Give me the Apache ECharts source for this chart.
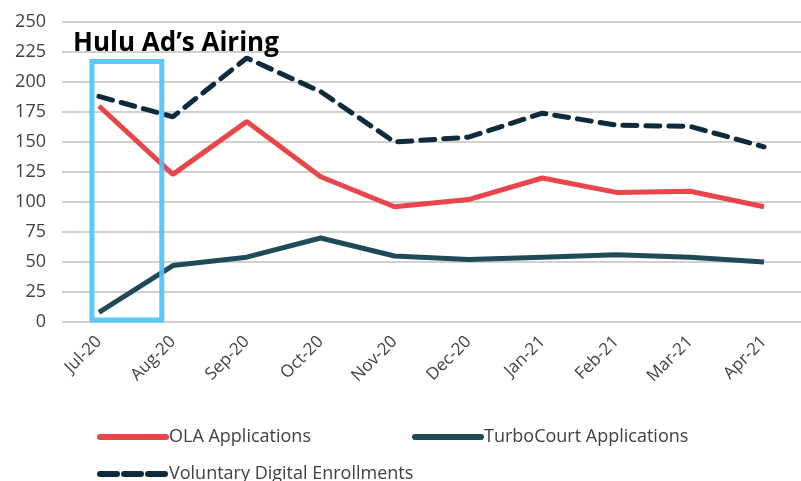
<!DOCTYPE html>
<html>
<head>
<meta charset="utf-8">
<script src="https://cdn.jsdelivr.net/npm/echarts@6/dist/echarts.min.js"></script>
<style>
  html, body { margin: 0; padding: 0; background: #fff; }
  #main { width: 801px; height: 481px; }
</style>
</head>
<body>
<div id="main"></div>
<script>
var months = ['Jul-20', 'Aug-20', 'Sep-20', 'Oct-20', 'Nov-20', 'Dec-20', 'Jan-21', 'Feb-21', 'Mar-21', 'Apr-21'];
var olaApps = [180, 123, 167, 121, 96, 102, 120, 108, 109, 96];
var turboApps = [8, 47, 54, 70, 55, 52, 54, 56, 54, 50];
var voluntary = [188, 171, 220, 192, 150, 154, 174, 164, 163, 146];
var annotation = 'Hulu Ad\u2019s Airing';

var font = "'Open Sans', sans-serif";
var chart = echarts.init(document.getElementById('main'));

var option = {
  animation: false,
  backgroundColor: '#fff',
  title: {
    text: annotation,
    left: 68, top: 26,
    textStyle: { fontFamily: font, fontWeight: 'bold', fontSize: 26, color: '#000' }
  },
  grid: { left: 62, right: -14, top: 22, bottom: 159 },
  legend: [
    { data: ['OLA Applications'], left: 92, top: 423 },
    { data: ['TurboCourt Applications'], left: 407, top: 423 },
    { data: ['Voluntary Digital Enrollments'], left: 92, top: 460, lineStyle: { width: 6, type: [17, 7], cap: 'round' } }
  ].map(function (l) {
    l.itemWidth = 66; l.itemHeight = 12; l.itemGap = 0;
    l.itemStyle = { opacity: 0 };
    if (!l.lineStyle) l.lineStyle = { width: 6, cap: 'round' };
    l.textStyle = { fontFamily: font, fontSize: 18, color: '#404040', padding: [0, 0, 0, -2] };
    return l;
  }),
  xAxis: {
    type: 'category',
    data: months,
    axisLine: { show: false },
    axisTick: { show: false },
    axisLabel: { rotate: 45, fontFamily: font, fontSize: 17, color: '#404040', margin: 17 }
  },
  yAxis: {
    type: 'value',
    min: 0, max: 250, interval: 25,
    axisLine: { show: false },
    axisTick: { show: false },
    axisLabel: { fontFamily: font, fontSize: 18, color: '#404040', margin: 16 },
    splitLine: { lineStyle: { color: '#d0d0d0', width: 2 } }
  },
  series: [
    {
      name: 'OLA Applications', type: 'line', data: olaApps,
      symbol: 'none', color: '#e8464b',
      lineStyle: { width: 5, color: '#e8464b' }
    },
    {
      name: 'TurboCourt Applications', type: 'line', data: turboApps,
      symbol: 'none', color: '#1f4b59',
      lineStyle: { width: 5, color: '#1f4b59' }
    },
    {
      name: 'Voluntary Digital Enrollments', type: 'line', data: voluntary,
      symbol: 'none', color: '#0e2b3c',
      lineStyle: { width: 5, color: '#0e2b3c', type: [14, 9], cap: 'round' }
    }
  ]
};
chart.setOption(option);

// highlight box round the first month
var p0 = chart.convertToPixel({ xAxisIndex: 0, yAxisIndex: 0 }, [0, 0]);
var p1 = chart.convertToPixel({ xAxisIndex: 0, yAxisIndex: 0 }, [1, 217]);
var step = p1[0] - p0[0];
var bx0 = p0[0] - 0.095 * step, bx1 = p0[0] + 0.85 * step;
chart.setOption({
  graphic: [{
    type: 'rect', z: 100,
    shape: { x: bx0, y: p1[1], width: bx1 - bx0, height: p0[1] - 2 - p1[1] },
    style: { fill: 'none', stroke: '#4cc3f7', lineWidth: 5, opacity: 0.92 }
  }]
});
</script>
</body>
</html>
